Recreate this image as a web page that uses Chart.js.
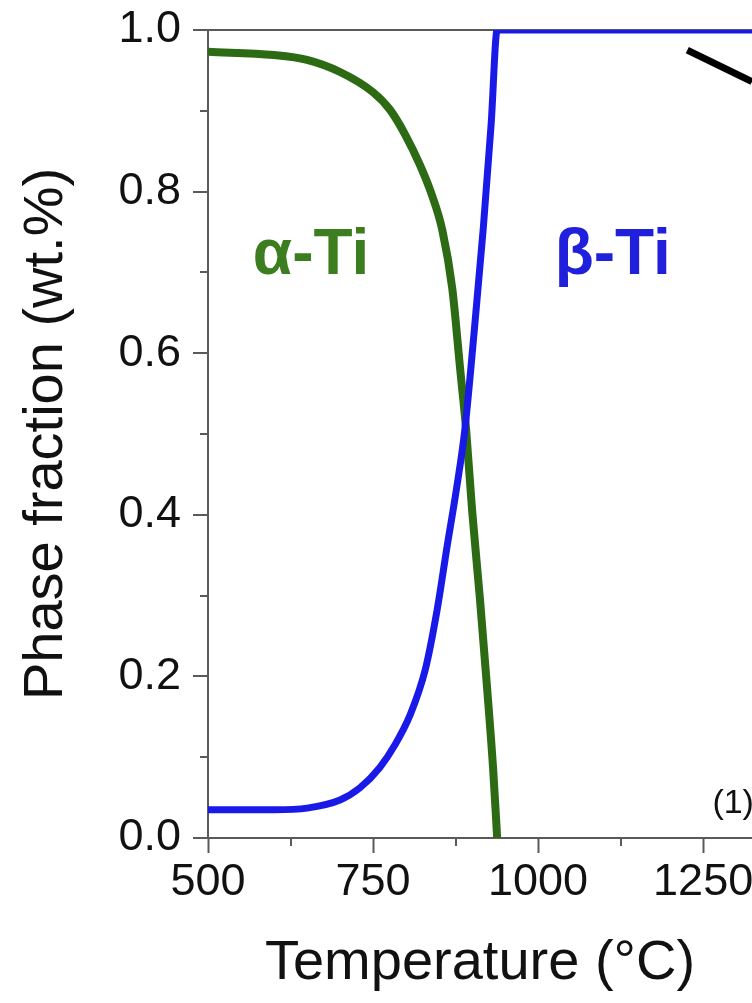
<!DOCTYPE html>
<html>
<head>
<meta charset="utf-8">
<title>Phase fraction vs temperature</title>
<script src="https://cdn.jsdelivr.net/npm/chart.js@4.4.1/dist/chart.umd.min.js"></script>
<style>
  html, body { margin: 0; padding: 0; background: #fff; overflow: hidden; }
  #wrap { position: relative; width: 752px; height: 1003px; }
</style>
</head>
<body>
<div id="wrap"><canvas id="phaseChart"></canvas></div>
<script>
// alpha-Ti phase fraction (green)
const alphaTemp = [500, 600, 650, 700, 750, 776, 799, 821, 839, 855, 870, 882, 891, 900, 912, 923, 932, 938];
const alphaFrac = [0.973, 0.969, 0.963, 0.948, 0.923, 0.901, 0.870, 0.833, 0.796, 0.752, 0.680, 0.580, 0.505, 0.406, 0.295, 0.183, 0.084, 0.0];

// beta-Ti phase fraction (blue)
const betaTemp = [500, 600, 650, 700, 730, 760, 783, 806, 829, 847, 862, 876, 889, 903, 917, 929, 938, 1324];
const betaFrac = [0.035, 0.035, 0.037, 0.047, 0.062, 0.087, 0.115, 0.152, 0.208, 0.282, 0.360, 0.430, 0.505, 0.625, 0.755, 0.885, 1.0, 1.0];

// black pointer line at top right
const pointerTemp = [1226, 1324];
const pointerFrac = [0.975, 0.936];

const xTickValues = [500, 625, 750, 875, 1000, 1125, 1250];
const xMajor = [500, 750, 1000, 1250];
const yTickValues = [0, 0.1, 0.2, 0.3, 0.4, 0.5, 0.6, 0.7, 0.8, 0.9, 1.0];
const yMajor = [0, 0.2, 0.4, 0.6, 0.8, 1.0];

const labels = [
  { text: 'α-Ti', t: 656, v: 0.72, color: '#3b7d1f', size: 64, weight: 'bold', align: 'center' },
  { text: 'β-Ti', t: 1113, v: 0.72, color: '#2020dc', size: 64, weight: 'bold', align: 'center' },
  { text: '(1)', t: 1264, v: 0.042, color: '#111', size: 34, weight: 'normal', align: 'left' }
];

const FONT = "'Liberation Sans', Arial, Helvetica, sans-serif";
const AXIS = '#5a5a5a';

const isMajor = (list, v) => list.some(m => Math.abs(m - v) < 1e-9);

const minorTicks = {
  id: 'minorTicks',
  afterDraw(chart) {
    const { ctx, scales: { x, y } } = chart;
    ctx.save();
    ctx.strokeStyle = AXIS;
    ctx.lineWidth = 2;
    ctx.beginPath();
    x.ticks.forEach(t => {
      if (isMajor(xMajor, t.value)) return;
      const px = Math.round(x.getPixelForValue(t.value));
      ctx.moveTo(px, x.top);
      ctx.lineTo(px, x.top + 8);
    });
    y.ticks.forEach(t => {
      if (isMajor(yMajor, t.value)) return;
      const py = Math.round(y.getPixelForValue(t.value));
      ctx.moveTo(y.right, py);
      ctx.lineTo(y.right - 8, py);
    });
    ctx.stroke();
    ctx.restore();
  }
};

const textLabels = {
  id: 'textLabels',
  afterDatasetsDraw(chart) {
    const { ctx, scales: { x, y } } = chart;
    ctx.save();
    labels.forEach(l => {
      ctx.font = `${l.weight} ${l.size}px ${FONT}`;
      ctx.fillStyle = l.color;
      ctx.textAlign = l.align;
      ctx.textBaseline = 'middle';
      ctx.fillText(l.text, x.getPixelForValue(l.t), y.getPixelForValue(l.v));
    });
    ctx.restore();
  }
};

const toXY = (ts, vs) => ts.map((t, i) => ({ x: t, y: vs[i] }));

new Chart(document.getElementById('phaseChart'), {
  type: 'line',
  data: {
    datasets: [
      {
        label: 'β-Ti',
        data: toXY(betaTemp, betaFrac),
        borderColor: '#1a1ae8',
        borderWidth: 7,
        pointRadius: 0,
        cubicInterpolationMode: 'monotone',
        order: 1
      },
      {
        label: 'α-Ti',
        data: toXY(alphaTemp, alphaFrac),
        borderColor: '#2c6b13',
        borderWidth: 8,
        pointRadius: 0,
        cubicInterpolationMode: 'monotone',
        order: 2
      },
      {
        label: 'pointer',
        data: toXY(pointerTemp, pointerFrac),
        borderColor: '#000',
        borderWidth: 7,
        pointRadius: 0,
        order: 0
      }
    ]
  },
  options: {
    responsive: true,
    maintainAspectRatio: false,
    animation: false,
    layout: { padding: { top: 30, right: 0, left: 0, bottom: 0 } },
    plugins: {
      legend: { display: false },
      tooltip: { enabled: false }
    },
    scales: {
      x: {
        type: 'linear',
        min: 500,
        max: 1324,
        afterBuildTicks: scale => { scale.ticks = xTickValues.map(v => ({ value: v })); },
        afterFit: scale => {
          scale.height = 165;
          scale.paddingLeft = 0;
          scale.paddingRight = 0;
        },
        grid: {
          drawOnChartArea: false,
          drawTicks: true,
          tickLength: 15,
          tickWidth: 2,
          tickColor: c => (isMajor(xMajor, c.tick.value) ? AXIS : 'rgba(0,0,0,0)')
        },
        border: { display: true, color: AXIS, width: 2 },
        ticks: {
          padding: 3,
          maxRotation: 0,
          autoSkip: false,
          color: '#111',
          font: { family: FONT, size: 45 },
          callback: v => (isMajor(xMajor, v) ? String(v) : '')
        },
        title: {
          display: true,
          text: 'Temperature (°C)',
          color: '#111',
          font: { family: FONT, size: 56 },
          padding: { top: 0, bottom: 6 }
        }
      },
      y: {
        type: 'linear',
        min: 0,
        max: 1,
        afterBuildTicks: scale => { scale.ticks = yTickValues.map(v => ({ value: v })); },
        afterFit: scale => {
          scale.width = 208;
          scale.paddingTop = 0;
          scale.paddingBottom = 0;
        },
        grid: {
          drawOnChartArea: true,
          drawTicks: true,
          tickLength: 15,
          tickWidth: 2,
          lineWidth: 2,
          color: c => (c.tick && c.tick.value === 1 ? AXIS : 'rgba(0,0,0,0)'),
          tickColor: c => (isMajor(yMajor, c.tick.value) ? AXIS : 'rgba(0,0,0,0)')
        },
        border: { display: true, color: AXIS, width: 2 },
        ticks: {
          padding: 12,
          autoSkip: false,
          color: '#111',
          font: { family: FONT, size: 45 },
          callback: v => (isMajor(yMajor, v) ? v.toFixed(1) : '')
        },
        title: {
          display: true,
          text: 'Phase fraction (wt.%)',
          color: '#111',
          font: { family: FONT, size: 56 },
          padding: { top: 13, bottom: 0 }
        }
      }
    }
  },
  plugins: [minorTicks, textLabels]
});
</script>
</body>
</html>
